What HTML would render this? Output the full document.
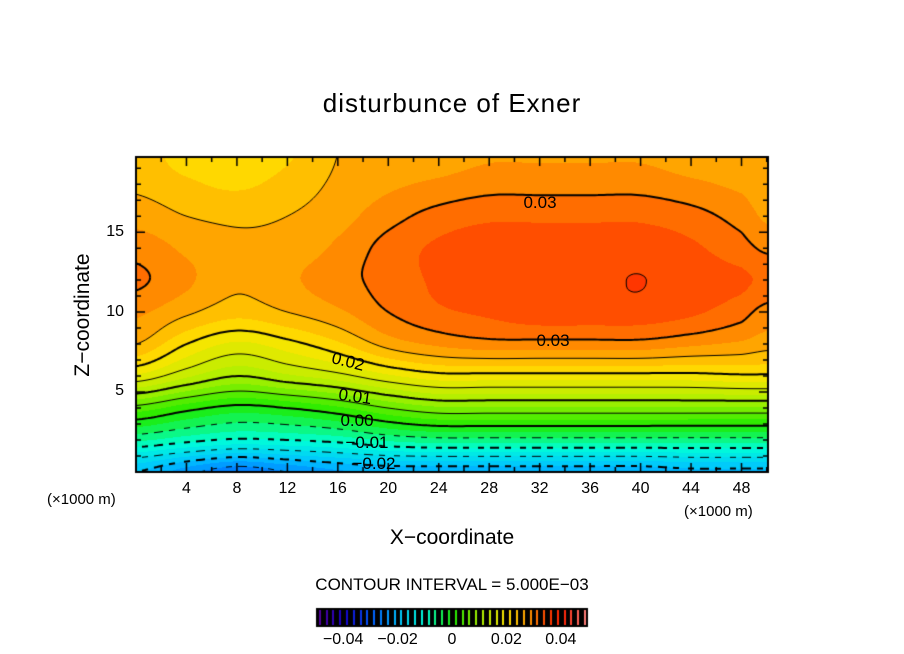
<!DOCTYPE html>
<html><head><meta charset="utf-8"><style>
body{margin:0;background:#fff;width:904px;height:654px;overflow:hidden;position:relative;font-family:"Liberation Sans",sans-serif;}
.t{position:absolute;white-space:nowrap;color:#000;}
</style></head><body>
<div class="t" style="left:0;width:904px;text-align:center;top:88px;font-size:26px;letter-spacing:1px;">disturbunce of Exner</div>
<canvas id="cv" width="904" height="654" style="position:absolute;left:0;top:0"></canvas>
<div class="t" style="left:-2px;top:303px;font-size:21px;transform:rotate(-90deg);width:170px;text-align:center;">Z−coordinate</div>
<div class="t" style="left:0;width:904px;text-align:center;top:526px;font-size:21px;">X−coordinate</div>
<div class="t" style="left:47px;top:491px;font-size:15px;">(×1000 m)</div>
<div class="t" style="left:684px;top:503px;font-size:15px;">(×1000 m)</div>
<div class="t" style="left:0;width:904px;text-align:center;top:575px;font-size:17px;">CONTOUR INTERVAL = 5.000E−03</div>
<div id="labels"></div>
<script>
// grid data: columns x (km), rows z (km)
const xs=[0,4,8,12,16,20,24,28,32,36,40,44,48,50];
const zs=[0,2,4,6,8,10,12,14,16,18,20];
const r0=[-0.020,-0.024,-0.027,-0.025,-0.023,-0.022,-0.022,-0.022,-0.022,-0.022,-0.022,-0.021,-0.021,-0.021];
const r2=[-0.007,-0.009,-0.0105,-0.010,-0.009,-0.007,-0.006,-0.006,-0.006,-0.006,-0.006,-0.006,-0.006,-0.006];
const r4=[0.004,0.001,-0.001,0.000,0.002,0.005,0.007,0.007,0.007,0.007,0.007,0.007,0.007,0.007];
const r6=[0.017,0.013,0.010,0.012,0.014,0.017,0.019,0.019,0.019,0.019,0.019,0.019,0.0195,0.0195];
const r8=[0.025,0.020,0.017,0.019,0.022,0.026,0.028,0.029,0.029,0.029,0.029,0.028,0.027,0.026];
const r10=[0.028,0.0255,0.0235,0.025,0.027,0.030,0.032,0.033,0.034,0.034,0.034,0.033,0.031,0.029];
const r12=[0.0305,0.028,0.0255,0.027,0.029,0.031,0.033,0.034,0.0343,0.0345,0.03505,0.034,0.033,0.032];
const r14=[0.029,0.027,0.0255,0.026,0.028,0.031,0.033,0.034,0.034,0.034,0.034,0.033,0.031,0.0295];
const r16=[0.0265,0.025,0.0245,0.025,0.0265,0.029,0.031,0.032,0.032,0.032,0.032,0.031,0.029,0.027];
const r18=[0.0245,0.023,0.022,0.0235,0.0255,0.027,0.028,0.029,0.029,0.029,0.029,0.028,0.027,0.026];
const r20=[0.024,0.021,0.020,0.022,0.025,0.026,0.026,0.027,0.027,0.027,0.027,0.026,0.026,0.025];
const rows=[r0,r2,r4,r6,r8,r10,r12,r14,r16,r18,r20];
const xTicks=[4,8,12,16,20,24,28,32,36,40,44,48];
const zTicks=[5,10,15];
const cbTicks=[-0.04,-0.02,0,0.02,0.04];
const cbLabels=["−0.04","−0.02","0","0.02","0.04"];

const L=136,R=768,T=157,B=472,XMAX=50.1,ZMAX=19.7;
const sx=x=>L+(x/XMAX)*(R-L), sz=z=>B-(z/ZMAX)*(B-T);
const cv=document.getElementById('cv'),ctx=cv.getContext('2d');

function fidx(arr,v){for(let i=0;i<arr.length-1;i++){if(v<=arr[i+1])return i+(v-arr[i])/(arr[i+1]-arr[i]);}return arr.length-1;}
function g(i,j){i=Math.max(0,Math.min(rows.length-1,i));j=Math.max(0,Math.min(xs.length-1,j));return rows[i][j];}
function cr(p0,p1,p2,p3,t){return p1+0.5*t*(p2-p0+t*(2*p0-5*p1+4*p2-p3+t*(3*(p1-p2)+p3-p0)));}
function field(x,z){
  const fx=fidx(xs,x),fz=fidx(zs,z);
  const j=Math.min(Math.floor(fx),xs.length-2),i=Math.min(Math.floor(fz),rows.length-2);
  const tx=fx-j,tz=fz-i;const c=[];
  for(let k=-1;k<=2;k++)c.push(cr(g(i+k,j-1),g(i+k,j),g(i+k,j+1),g(i+k,j+2),tx));
  return cr(c[0],c[1],c[2],c[3],tz);
}
const stops=[[-0.05,[90,0,150]],[-0.04,[20,0,200]],[-0.03,[0,90,255]],[-0.02,[0,195,255]],[-0.01,[0,255,215]],[0,[30,235,0]],[0.01,[170,240,0]],[0.02,[255,228,0]],[0.025,[255,178,0]],[0.03,[255,125,0]],[0.035,[255,62,0]],[0.04,[255,30,0]],[0.05,[255,140,140]]];
function col(v){v=Math.max(-0.05,Math.min(0.0499,v));
  for(let i=0;i<stops.length-1;i++){if(v<=stops[i+1][0]){const t=(v-stops[i][0])/(stops[i+1][0]-stops[i][0]);const a=stops[i][1],b=stops[i+1][1];return a.map((c,k)=>Math.round(c+(b[k]-c)*t));}}
  return stops[stops.length-1][1];}
// fill
const W=R-L,H=B-T,img=ctx.createImageData(W,H);
for(let py=0;py<H;py++)for(let px=0;px<W;px++){
  const x=(px+0.5)/W*XMAX,z=(B-(T+py+0.5))/(B-T)*ZMAX;
  let v=field(x,z);v=(Math.floor(v/0.0025)+0.5)*0.0025;
  const c=col(v),o=(py*W+px)*4;img.data[o]=c[0];img.data[o+1]=c[1];img.data[o+2]=c[2];img.data[o+3]=255;}
ctx.putImageData(img,L,T);
// contours via marching squares
const st=3,nx=Math.ceil(W/st),ny=Math.ceil(H/st),G=[];
for(let a=0;a<=ny;a++){G.push([]);for(let b=0;b<=nx;b++){const px=L+Math.min(b*st,W),py=T+Math.min(a*st,H);G[a].push(field((px-L)/W*XMAX,(B-py)/H*ZMAX));}}
ctx.save();ctx.beginPath();ctx.rect(L,T,W,H);ctx.clip();ctx.strokeStyle='#000';
for(let lv=-0.025;lv<=0.0451;lv+=0.005){
  const lvr=Math.round(lv*1000)/1000;const major=Math.abs(Math.round(lvr*100)-lvr*100)<1e-6;
  ctx.lineWidth=major?2:1;ctx.beginPath();
  for(let a=0;a<ny;a++)for(let b=0;b<nx;b++){
    const x0=L+b*st,y0=T+a*st,x1=L+Math.min((b+1)*st,W),y1=T+Math.min((a+1)*st,H);
    const v=[G[a][b],G[a][b+1],G[a+1][b+1],G[a+1][b]],p=[[x0,y0],[x1,y0],[x1,y1],[x0,y1]],pts=[];
    for(let e=0;e<4;e++){const u=v[e],w=v[(e+1)%4];if((u<lvr)!==(w<lvr)){const t=(lvr-u)/(w-u);const A=p[e],Bp=p[(e+1)%4];pts.push([A[0]+(Bp[0]-A[0])*t,A[1]+(Bp[1]-A[1])*t]);}}
    if(lvr<0&&Math.floor(x0/7)%2===1)continue;
    for(let k=0;k+1<pts.length;k+=2){ctx.moveTo(pts[k][0],pts[k][1]);ctx.lineTo(pts[k+1][0],pts[k+1][1]);}
  }
  ctx.stroke();}
ctx.restore();
// frame & ticks
ctx.strokeStyle='#000';ctx.lineWidth=2;ctx.strokeRect(L,T,W,H);ctx.lineWidth=1.5;ctx.beginPath();
for(let x=2;x<XMAX;x+=2){const len=(x%4===0)?9:5;ctx.moveTo(sx(x),B);ctx.lineTo(sx(x),B-len);ctx.moveTo(sx(x),T);ctx.lineTo(sx(x),T+len);}
for(let z=1;z<ZMAX;z++){const len=(z%5===0)?9:5;ctx.moveTo(L,sz(z));ctx.lineTo(L+len,sz(z));ctx.moveTo(R,sz(z));ctx.lineTo(R-len,sz(z));}
ctx.stroke();
// colorbar
const cbL=316,cbR=588,cbT=608,cbB=627,cbv=v=>cbL+(v+0.05)/0.1*(cbR-cbL);
ctx.fillStyle='#000';ctx.fillRect(cbL,cbT,cbR-cbL,cbB-cbT);
for(let v=-0.049;v<0.05;v+=0.0025){const c=col(v);ctx.fillStyle=`rgb(${c[0]},${c[1]},${c[2]})`;ctx.fillRect(Math.round(cbv(v)),cbT+2,2,cbB-cbT-4);}
const lab=document.getElementById('labels');
function addT(name,txt,x,y,fs,align,rot){const d=document.createElement('div');d.className='t';d.textContent=txt;


d.style.fontSize=fs+'px';d.style.top=(y-fs*0.6)+'px';
if(align==='c'){d.style.left=(x-50)+'px';d.style.width='100px';d.style.textAlign='center';}
else if(align==='r'){d.style.left=(x-100)+'px';d.style.width='100px';d.style.textAlign='right';}
else d.style.left=x+'px';
if(rot)d.style.transform='rotate('+rot+'deg)';lab.appendChild(d);}
xTicks.forEach(x=>addT('x-tick-label',String(x),sx(x),490,16,'c'));
zTicks.forEach(z=>addT('z-tick-label',String(z),124,sz(z),16,'r'));
cbTicks.forEach((v,i)=>addT('colorbar-tick-label',cbLabels[i],cbv(v),641,16,'c'));
// contour labels
const cl=[["0.03",540,203],["0.03",553,341],["0.02",348,362],["0.01",355,397],["0.00",357,421],["−0.01",367,443],["−0.02",374,464]];
cl.forEach(c=>addT('contour-label',c[0],c[1],c[2],17,'c',c[0]==="0.02"?14:(c[0]==="0.01"?8:0)));
</script>
</body></html>
